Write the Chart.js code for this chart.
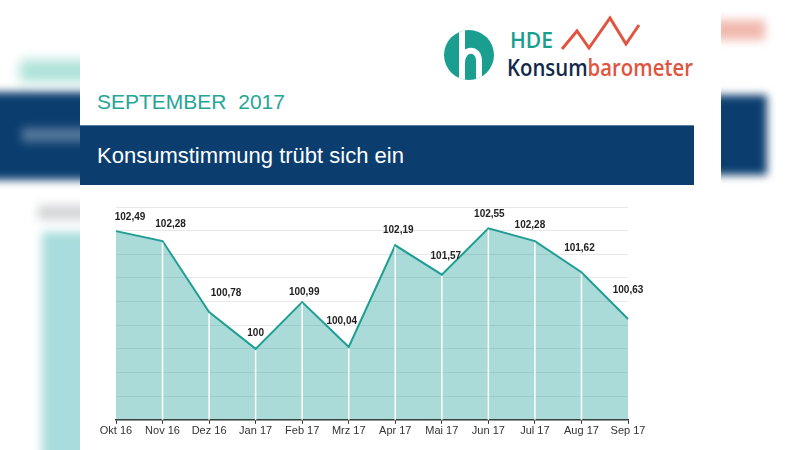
<!DOCTYPE html>
<html lang="de">
<head>
<meta charset="utf-8">
<title>HDE Konsumbarometer September 2017</title>
<script src="https://cdn.jsdelivr.net/npm/chart.js@4.4.0/dist/chart.umd.min.js"></script>
<style>
    html, body {
        margin: 0;
        padding: 0;
        width: 800px;
        height: 450px;
        overflow: hidden;
        background: #ffffff;
        font-family: "Liberation Sans", Arial, sans-serif;
    }
    .blur { position: absolute; }
    #panel {
        position: absolute;
        left: 80px;
        top: 0;
        width: 641px;
        height: 450px;
        background: #ffffff;
    }
    #logo {
        position: absolute;
        left: 0;
        top: 0;
    }
    #month {
        position: absolute;
        left: 97px;
        top: 91px;
        font-size: 21px;
        line-height: 21px;
        color: #25a596;
        white-space: pre;
    }
    #banner {
        position: absolute;
        left: 80px;
        top: 125px;
        width: 614px;
        height: 60px;
        background: #0b3e6f;
        border-top: 1px solid #5a7ea3;
        box-sizing: border-box;
    }
    #banner span {
        position: absolute;
        left: 17px;
        top: 19px;
        font-size: 22px;
        line-height: 22px;
        color: #ffffff;
        white-space: nowrap;
    }
    #chart-wrap {
        position: absolute;
        left: 80px;
        top: 190px;
        width: 640px;
        height: 260px;
    }
</style>
</head>
<body>
<!-- blurred backdrop on both sides -->
<div class="blur" style="left:20px;top:60px;width:80px;height:22px;background:#aee2d9;filter:blur(6px);"></div>
<div class="blur" style="left:-10px;top:92px;width:100px;height:88px;background:#0b3e6f;filter:blur(4px);"></div>
<div class="blur" style="left:22px;top:128px;width:70px;height:14px;background:#56799c;filter:blur(5px);"></div>
<div class="blur" style="left:38px;top:205px;width:60px;height:15px;background:#d4d6d8;filter:blur(5px);"></div>
<div class="blur" style="left:42px;top:232px;width:60px;height:240px;background:#a9dcdc;filter:blur(5px);"></div>
<div class="blur" style="left:715px;top:20px;width:50px;height:20px;background:#f1b9ae;filter:blur(5px);"></div>
<div class="blur" style="left:705px;top:95px;width:62px;height:80px;background:#0b3e6f;filter:blur(4px);"></div>

<div id="panel"></div>

<svg id="logo" width="800" height="100" viewBox="0 0 800 100">
    <defs>
        <clipPath id="circleClip"><circle cx="469" cy="55" r="25"/></clipPath>
    </defs>
    <circle cx="469" cy="55" r="25" fill="#1a9e8f"/>
    <g clip-path="url(#circleClip)" fill="none" stroke="#ffffff" stroke-width="6">
        <line x1="462" y1="28" x2="462" y2="84"/>
        <path d="M462 63 C462 47, 479 47, 479 61 L479 84"/>
    </g>
    <polyline points="562,49 577,31 589,48 610,18 626,44 639,25" fill="none" stroke="#e0553f" stroke-width="3"/>
    <text x="510" y="48" font-family="Open Sans" font-size="21" font-weight="600" fill="#1a9e8f">HDE</text>
    <text x="507" y="76" font-family="Open Sans" font-size="23" font-weight="600" textLength="186" lengthAdjust="spacingAndGlyphs"><tspan fill="#13294b">Konsum</tspan><tspan fill="#e0553f">barometer</tspan></text>
</svg>

<div id="month">SEPTEMBER  2017</div>
<div id="banner"><span>Konsumstimmung trübt sich ein</span></div>

<div id="chart-wrap"><canvas id="chart-konsum" width="640" height="260"></canvas></div>

<script>
// === Data ===
const MONTHS = ['Okt 16', 'Nov 16', 'Dez 16', 'Jan 17', 'Feb 17', 'Mrz 17',
                'Apr 17', 'Mai 17', 'Jun 17', 'Jul 17', 'Aug 17', 'Sep 17'];
const INDEX_VALUES = [102.49, 102.28, 100.78, 100, 100.99, 100.04,
                      102.19, 101.57, 102.55, 102.28, 101.62, 100.63];
const Y_MIN = 98.5;
const Y_MAX = 103;
const Y_STEP = 0.5;

// hand placed value labels in the original: [dx, dy] from the point
const LABEL_NUDGE = [[14, -14], [8, -17], [17, -19], [0, -16], [2, -10], [-7, -26],
                     [3, -15], [4, -18], [1, -14], [-5, -16], [-2, -24], [0, -29]];

const LINE_COLOR = '#1f9e94';
const FILL_COLOR = 'rgba(26,158,150,0.37)';

function formatValue(v) {
    return String(v).replace('.', ',');
}

// white drop lines from each point down to the axis
const dropLinesPlugin = {
    id: 'dropLines',
    afterDatasetsDraw(chart) {
        const ctx = chart.ctx;
        const meta = chart.getDatasetMeta(0);
        const bottom = chart.chartArea.bottom;
        ctx.save();
        ctx.strokeStyle = '#ffffff';
        ctx.lineWidth = 1.5;
        meta.data.forEach((pt, i) => {
            if (i === 0 || i === meta.data.length - 1) return;
            ctx.beginPath();
            ctx.moveTo(pt.x, pt.y + 1.5);
            ctx.lineTo(pt.x, bottom);
            ctx.stroke();
        });
        ctx.restore();
    }
};

const valueLabelsPlugin = {
    id: 'valueLabels',
    afterDatasetsDraw(chart) {
        const ctx = chart.ctx;
        const meta = chart.getDatasetMeta(0);
        ctx.save();
        ctx.font = 'bold 10px "Liberation Sans", Arial, sans-serif';
        ctx.fillStyle = '#222222';
        ctx.textAlign = 'center';
        ctx.textBaseline = 'middle';
        meta.data.forEach((pt, i) => {
            const [dx, dy] = LABEL_NUDGE[i];
            ctx.fillText(formatValue(INDEX_VALUES[i]), pt.x + dx, pt.y + dy);
        });
        ctx.restore();
    }
};

function loadKonsumChart() {
    const ctx = document.getElementById('chart-konsum').getContext('2d');

    new Chart(ctx, {
        type: 'line',
        data: {
            labels: MONTHS,
            datasets: [
                {
                    label: 'HDE Konsumbarometer',
                    data: INDEX_VALUES,
                    borderColor: LINE_COLOR,
                    backgroundColor: FILL_COLOR,
                    borderWidth: 2,
                    pointRadius: 0,
                    tension: 0,
                    fill: 'start'
                }
            ]
        },
        options: {
            responsive: false,
            animation: false,
            devicePixelRatio: 1,
            layout: {
                padding: { left: 36, right: 92, top: 17, bottom: 11 }
            },
            scales: {
                x: {
                    offset: false,
                    grid: {
                        display: true,
                        drawOnChartArea: false,
                        drawTicks: true,
                        tickLength: 4,
                        tickColor: '#333333'
                    },
                    border: { display: true, color: '#333333', width: 1.5 },
                    ticks: {
                        color: '#333333',
                        padding: 1,
                        maxRotation: 0,
                        autoSkip: false,
                        font: { family: '"Liberation Sans", Arial, sans-serif', size: 11 }
                    }
                },
                y: {
                    min: Y_MIN,
                    max: Y_MAX,
                    ticks: { display: false, stepSize: Y_STEP },
                    grid: { color: '#e8e8e8', drawTicks: false, lineWidth: 1 },
                    border: { display: false }
                }
            },
            plugins: {
                legend: { display: false },
                title: { display: false },
                tooltip: { enabled: false }
            }
        },
        plugins: [dropLinesPlugin, valueLabelsPlugin]
    });
}

window.onload = () => {
    loadKonsumChart();
};
</script>
</body>
</html>
